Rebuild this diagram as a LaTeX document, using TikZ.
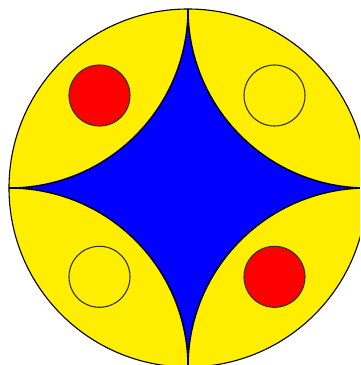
\documentclass[tikz,border=0pt]{standalone}
\usepackage{tikz}
\usetikzlibrary{positioning}
\definecolor{sunyellow}{RGB}{255,238,0}
\definecolor{deepblue}{RGB}{0,0,255}
\definecolor{dotred}{RGB}{255,0,0}
\tikzstyle{rim} = [draw=black, line width=1.1pt]
\tikzstyle{edge} = [draw=black, line width=1.4pt]
\tikzstyle{dot} = [circle, minimum size=61pt, inner sep=0pt, draw=black!80, line width=1.1pt]

\begin{document}
\begin{tikzpicture}[x=1pt, y=1pt]

\useasboundingbox (-188,-177) rectangle (172,188);
\clip (-188,-177) rectangle (172,188);

% outer disc
\coordinate (centre) at (0,0);
\fill[sunyellow] (centre) circle (179);

\coordinate (top) at (0,179);
\coordinate (bottom) at (0,-179);
\coordinate (left) at (-179,0);
\coordinate (right) at (179,0);
\draw[edge] (top) -- (bottom);
\draw[edge] (left) -- (right);

% blue star from four quarter arcs
\fill[deepblue] (top) arc[start angle=0, end angle=-90, radius=179]
  arc[start angle=90, end angle=0, radius=179]
  arc[start angle=180, end angle=90, radius=179]
  arc[start angle=270, end angle=180, radius=179] -- cycle;
\draw[edge] (top) arc[start angle=0, end angle=-90, radius=179]
  arc[start angle=90, end angle=0, radius=179]
  arc[start angle=180, end angle=90, radius=179]
  arc[start angle=270, end angle=180, radius=179] -- cycle;

\draw[rim] (centre) circle (179);

% small discs
\node (redtl) [dot, fill=dotred] at (-88.5,92.5) {};
\node (ringtr) [dot, fill=sunyellow] at (86.5,92.5) {};
\node (ringbl) [dot, fill=sunyellow] at (-88.5,-88.8) {};
\node (redbr) [dot, fill=dotred] at (86.5,-88.8) {};

\end{tikzpicture}
\end{document}
